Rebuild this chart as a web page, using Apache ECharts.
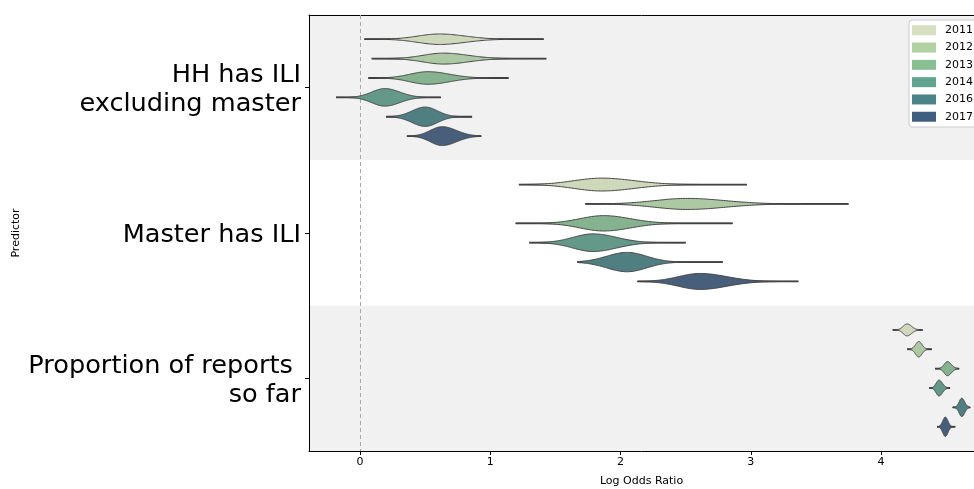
<!DOCTYPE html>
<html><head><meta charset="utf-8">
<script src="https://cdn.jsdelivr.net/npm/echarts@6/dist/echarts.min.js"></script>
<style>html,body{margin:0;padding:0;background:#fff}#c{width:974px;height:489px}</style>
</head><body><div id="c"></div>
<script>
const predictors = ['HH has ILI\nexcluding master', 'Master has ILI', 'Proportion of reports \nso far'];
const years = ['2011', '2012', '2013', '2014', '2016', '2017'];
const xTicks = [0, 1, 2, 3, 4];
// per year, per predictor: mode, left spread, right spread, min, max (log odds ratio)
const modes = [
  [0.61, 1.855, 4.20], [0.64, 2.51, 4.29], [0.52, 1.87, 4.51],
  [0.19, 1.79, 4.445], [0.50, 2.05, 4.62], [0.63, 2.61, 4.494]
];
const spreadL = [
  [0.165, 0.21, 0.030], [0.155, 0.245, 0.025], [0.135, 0.18, 0.025],
  [0.100, 0.155, 0.022], [0.100, 0.155, 0.020], [0.090, 0.165, 0.020]
];
const spreadR = [
  [0.195, 0.25, 0.035], [0.190, 0.29, 0.025], [0.165, 0.205, 0.030],
  [0.115, 0.18, 0.027], [0.095, 0.15, 0.022], [0.110, 0.205, 0.020]
];
const mins = [
  [0.033, 1.22, 4.09], [0.09, 1.73, 4.20], [0.064, 1.195, 4.415],
  [-0.184, 1.30, 4.37], [0.20, 1.67, 4.55], [0.36, 2.13, 4.43]
];
const maxs = [
  [1.41, 2.97, 4.32], [1.43, 3.75, 4.39], [1.14, 2.86, 4.60],
  [0.62, 2.50, 4.53], [0.86, 2.785, 4.685], [0.93, 3.365, 4.57]
];
const fillColors = ['#d0d8bb', '#adc9a3', '#86b38f', '#64998a', '#507f82', '#475f7b'];
const legendColors = ['#d6dfbf', '#b1d3a3', '#88c093', '#61a58e', '#4a8388', '#3e5f81'];

// relative peak density (equal area within each predictor group)
const peak = years.map((y, k) => predictors.map((p, i) => 1 / (spreadL[k][i] + spreadR[k][i])));
const groupMax = predictors.map((p, i) => Math.max(...years.map((y, k) => peak[k][i])));

function makeRender(k) {
  return function (params, api) {
    const i = api.value(0);
    const yc0 = api.coord([0, i])[1];
    const bandH = api.size([0, 1])[1];
    const slot = bandH * 0.8 / years.length;
    const yc = yc0 + (k - (years.length - 1) / 2) * slot;
    const halfMax = slot * 0.5;
    const H = halfMax * peak[k][i] / groupMax[i];
    const m = api.value(1), sl = api.value(2), sr = api.value(3), lo = api.value(4), hi = api.value(5);
    const N = 160;
    const top = [], bot = [];
    for (let j = 0; j <= N; j++) {
      const v = lo + (hi - lo) * j / N;
      const s = v < m ? sl : sr;
      const h = H * Math.exp(-0.5 * Math.pow((v - m) / s, 2));
      const x = api.coord([v, i])[0];
      top.push([x, yc - h]);
      bot.push([x, yc + h]);
    }
    const pts = top.concat(bot.reverse());
    const x0 = api.coord([lo, i])[0], x1 = api.coord([hi, i])[0];
    return {
      type: 'group',
      children: [
        { type: 'line', shape: { x1: x0, y1: yc, x2: x1, y2: yc }, style: { stroke: '#3c3c3c', lineWidth: 1.8 } },
        { type: 'polygon', shape: { points: pts }, style: { fill: fillColors[k], stroke: '#444', lineWidth: 1 } }
      ]
    };
  };
}

const series = years.map((y, k) => ({
  name: y,
  type: 'custom',
  renderItem: makeRender(k),
  encode: { x: 1, y: 0 },
  itemStyle: { color: fillColors[k] },
  data: predictors.map((p, i) => [i, modes[k][i], spreadL[k][i], spreadR[k][i], mins[k][i], maxs[k][i]]),
  z: 3
}));
series[0].markLine = {
  silent: true, symbol: 'none', label: { show: false },
  lineStyle: { color: '#a8a8a8', type: [4, 3], width: 1 },
  data: [{ xAxis: 0 }], z: 1
};

const font = 'DejaVu Sans';
const option = {
  animation: false,
  backgroundColor: '#fff',
  textStyle: { fontFamily: font },
  grid: { left: 309, right: 0, top: 15, bottom: 38, outerBoundsMode: 'none', containLabel: false },
  legend: {
    data: years.map((y, k) => ({ name: y, itemStyle: { color: legendColors[k] } })),
    orient: 'vertical', left: 909, top: 20,
    icon: 'rect', itemWidth: 24, itemHeight: 10, itemGap: 4.8,
    padding: [4, 6, 4, 3],
    borderColor: '#cccccc', borderWidth: 1, borderRadius: 3,
    backgroundColor: '#ffffff',
    textStyle: { fontSize: 11, color: '#000', fontFamily: font, padding: [0, 0, 0, 4], lineHeight: 12.5 }
  },
  xAxis: [{
    type: 'value', min: -0.392, max: 4.714,
    name: 'Log Odds Ratio', nameLocation: 'middle', nameGap: 25,
    nameTextStyle: { fontSize: 11, color: '#000', fontFamily: font },
    axisLine: { show: true, onZero: false, lineStyle: { color: '#000', width: 1 } },
    axisTick: { show: true, length: 4, lineStyle: { color: '#000' }, customValues: xTicks },
    axisLabel: { fontSize: 11, color: '#000', margin: 6, customValues: xTicks, fontFamily: font },
    splitLine: { show: false }
  }, {
    type: 'value', position: 'top', min: -0.392, max: 4.714,
    axisLine: { show: true, onZero: false, lineStyle: { color: '#000', width: 1 } },
    axisTick: { show: false }, axisLabel: { show: false }, splitLine: { show: false }
  }],
  yAxis: {
    type: 'category', data: predictors, inverse: true,
    name: 'Predictor', nameLocation: 'middle', nameGap: 287, nameRotate: 90, nameMoveOverlap: false,
    nameTextStyle: { fontSize: 11, color: '#000', fontFamily: font },
    axisLine: { show: true, onZero: false, lineStyle: { color: '#000', width: 1 } },
    axisTick: { show: true, alignWithLabel: true, length: 4, lineStyle: { color: '#000' } },
    axisLabel: {
      fontSize: 25.6, color: '#000', lineHeight: 29, align: 'right', margin: 8, fontFamily: font,
      formatter: v => '{t|' + v.split('\n').join('}\n{t|') + '}',
      rich: { t: { fontSize: 25.6, lineHeight: 29, fontFamily: font, color: '#000', padding: [5, 0, 0, 0] } }
    },
    splitLine: { show: false },
    splitArea: { show: true, areaStyle: { color: ['#f1f1f1', '#ffffff'] } }
  },
  series: series
};
const chart = echarts.init(document.getElementById('c'), null, { renderer: 'canvas' });
chart.setOption(option);
</script></body></html>
